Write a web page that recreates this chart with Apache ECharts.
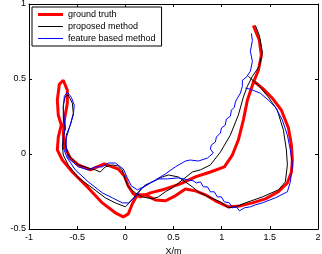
<!DOCTYPE html>
<html>
<head>
<meta charset="utf-8">
<script src="https://cdn.jsdelivr.net/npm/echarts@6/dist/echarts.min.js"></script>
<style>
  html, body { margin: 0; padding: 0; background: #fff; }
  #main { width: 322px; height: 254px; }
</style>
</head>
<body>
<div id="main"></div>
<script>
// trajectories, [x, y] in metres
var groundTruth = [
  [1.329, 0.857], [1.391, 0.758], [1.412, 0.658], [1.381, 0.558], [1.319, 0.459],
  [1.267, 0.359], [1.225, 0.226], [1.173, 0.093], [1.111, -0.007], [1.028, -0.086],
  [0.883, -0.120], [0.727, -0.153], [0.571, -0.199], [0.415, -0.233], [0.260, -0.259],
  [0.156, -0.286], [0.083, -0.266], [0.031, -0.213], [-0.010, -0.146], [-0.073, -0.100],
  [-0.135, -0.086], [-0.218, -0.066], [-0.291, -0.086], [-0.363, -0.106], [-0.488, -0.073],
  [-0.571, -0.027], [-0.623, 0.040], [-0.644, 0.126], [-0.633, 0.226], [-0.602, 0.339],
  [-0.602, 0.425], [-0.644, 0.492], [-0.685, 0.465], [-0.706, 0.359], [-0.696, 0.259],
  [-0.665, 0.193], [-0.696, 0.113], [-0.706, 0.027], [-0.654, -0.040], [-0.550, -0.120],
  [-0.384, -0.226], [-0.239, -0.326], [-0.104, -0.392], [-0.021, -0.419], [0.031, -0.399],
  [0.073, -0.332], [0.125, -0.272], [0.208, -0.272], [0.312, -0.306], [0.415, -0.312],
  [0.519, -0.279], [0.623, -0.233], [0.727, -0.246], [0.831, -0.272], [0.935, -0.312],
  [1.070, -0.352], [1.194, -0.346], [1.319, -0.326], [1.454, -0.299], [1.589, -0.252],
  [1.682, -0.193], [1.724, -0.120], [1.734, -0.040], [1.724, 0.060], [1.693, 0.173],
  [1.620, 0.292], [1.526, 0.372], [1.423, 0.439], [1.319, 0.492]
];

var proposed = [
  [1.350, 0.857], [1.391, 0.791], [1.423, 0.678], [1.391, 0.585], [1.319, 0.518],
  [1.267, 0.452], [1.225, 0.379], [1.173, 0.259], [1.090, 0.126], [0.987, 0.013],
  [0.883, -0.073], [0.779, -0.106], [0.696, -0.120], [0.592, -0.173], [0.488, -0.226],
  [0.415, -0.252], [0.343, -0.286], [0.280, -0.299], [0.177, -0.286], [0.104, -0.259],
  [0.031, -0.219], [0.000, -0.173], [-0.031, -0.106], [-0.073, -0.080], [-0.135, -0.073],
  [-0.208, -0.086], [-0.260, -0.120], [-0.312, -0.106], [-0.384, -0.093], [-0.488, -0.073],
  [-0.592, -0.007], [-0.623, 0.060], [-0.613, 0.126], [-0.571, 0.193], [-0.540, 0.272],
  [-0.550, 0.339], [-0.592, 0.392], [-0.623, 0.385], [-0.644, 0.326], [-0.644, 0.239],
  [-0.623, 0.173], [-0.644, 0.113], [-0.654, 0.053], [-0.644, -0.007], [-0.592, -0.073],
  [-0.488, -0.159], [-0.343, -0.226], [-0.208, -0.292], [-0.104, -0.326], [0.000, -0.352],
  [0.052, -0.319], [0.135, -0.252], [0.208, -0.206], [0.280, -0.186], [0.384, -0.153],
  [0.447, -0.140], [0.550, -0.153], [0.696, -0.219], [0.758, -0.252], [0.862, -0.286],
  [0.987, -0.319], [1.070, -0.359], [1.142, -0.352], [1.246, -0.326], [1.423, -0.286],
  [1.589, -0.239], [1.661, -0.186], [1.682, -0.073], [1.672, 0.027], [1.641, 0.159],
  [1.578, 0.292], [1.485, 0.379], [1.381, 0.459], [1.277, 0.518]
];

var featureBased = [
  [1.308, 0.804], [1.319, 0.758], [1.298, 0.684], [1.319, 0.618], [1.298, 0.552],
  [1.256, 0.512], [1.215, 0.492], [1.215, 0.452], [1.194, 0.405], [1.163, 0.372],
  [1.142, 0.346], [1.132, 0.312], [1.101, 0.292], [1.090, 0.252], [1.049, 0.233],
  [1.038, 0.193], [0.997, 0.173], [0.987, 0.140], [0.945, 0.113], [0.935, 0.080],
  [0.893, 0.060], [0.883, 0.033], [0.914, 0.007], [0.852, -0.027], [0.758, -0.047],
  [0.675, -0.040], [0.623, -0.047], [0.519, -0.086], [0.415, -0.133], [0.312, -0.173],
  [0.208, -0.213], [0.125, -0.239], [0.062, -0.213], [0.021, -0.159], [-0.021, -0.100],
  [-0.104, -0.060], [-0.177, -0.060], [-0.239, -0.086], [-0.312, -0.086], [-0.384, -0.106],
  [-0.488, -0.086], [-0.592, -0.027], [-0.613, 0.040], [-0.613, 0.106], [-0.582, 0.173],
  [-0.540, 0.259], [-0.530, 0.326], [-0.561, 0.379], [-0.602, 0.412], [-0.633, 0.385],
  [-0.644, 0.306], [-0.633, 0.226], [-0.623, 0.173], [-0.644, 0.113], [-0.644, 0.040],
  [-0.602, -0.027], [-0.519, -0.106], [-0.384, -0.186], [-0.239, -0.259], [-0.135, -0.292],
  [-0.031, -0.326], [0.031, -0.326], [0.104, -0.286], [0.177, -0.226], [0.260, -0.193],
  [0.343, -0.166], [0.436, -0.166], [0.550, -0.159], [0.654, -0.173], [0.706, -0.179],
  [0.737, -0.193], [0.779, -0.186], [0.810, -0.219], [0.852, -0.219], [0.883, -0.252],
  [0.924, -0.252], [0.955, -0.286], [0.997, -0.286], [1.028, -0.319], [1.080, -0.326],
  [1.111, -0.359], [1.153, -0.352], [1.184, -0.379], [1.236, -0.359], [1.298, -0.352],
  [1.350, -0.339], [1.423, -0.326], [1.558, -0.292], [1.682, -0.252], [1.713, -0.186],
  [1.734, -0.073], [1.713, 0.027], [1.682, 0.126], [1.630, 0.226], [1.558, 0.312],
  [1.485, 0.359], [1.402, 0.405], [1.298, 0.432], [1.246, 0.439]
];

var names = ['ground truth', 'proposed method', 'feature based method'];
var xTicks = [-1, 2, 0.5];   // min, max, step
var yTicks = [-0.5, 1, 0.5];

var chart = echarts.init(document.getElementById('main'));
var font = 'Liberation Sans, Arial, sans-serif';

var tickStyle = { show: true, inside: true, length: 3, lineStyle: { color: '#000', width: 1 } };
var axLine = { onZero: false, lineStyle: { color: '#000', width: 1 } };

var option = {
  animation: false,
  grid: { left: 29, right: 4, top: 4, bottom: 25, containLabel: false, outerBoundsMode: 'none' },
  legend: {
    data: [
      { name: names[0], icon: 'path://M0,0H25V3H0Z' },
      { name: names[1], icon: 'path://M0,0H25V1H0Z' },
      { name: names[2], icon: 'path://M0,0H25V1H0Z' }
    ],
    orient: 'vertical',
    left: 32,
    top: 7,
    padding: [3, 6, 3, 6],
    itemGap: 3,
    itemWidth: 25,
    itemHeight: 9,
    borderColor: '#000',
    borderWidth: 1,
    backgroundColor: '#fff',
    textStyle: { fontFamily: font, fontSize: 9, color: '#000' }
  },
  xAxis: [{
    type: 'value', min: xTicks[0], max: xTicks[1], interval: xTicks[2],
    name: 'X/m', nameLocation: 'middle', nameGap: 16,
    nameTextStyle: { fontFamily: font, fontSize: 9, color: '#000' },
    axisLine: axLine, axisTick: tickStyle,
    axisLabel: { fontFamily: font, fontSize: 9, color: '#000', margin: 4 },
    splitLine: { show: false }
  }, {
    type: 'value', position: 'top', min: xTicks[0], max: xTicks[1], interval: xTicks[2],
    axisLine: axLine, axisTick: tickStyle, axisLabel: { show: false }, splitLine: { show: false }
  }],
  yAxis: [{
    type: 'value', min: yTicks[0], max: yTicks[1], interval: yTicks[2],
    name: 'Y/m', nameLocation: 'middle', nameGap: 22,
    nameTextStyle: { fontFamily: font, fontSize: 9, color: '#000' },
    axisLine: axLine, axisTick: tickStyle,
    axisLabel: { fontFamily: font, fontSize: 9, color: '#000', margin: 3 },
    splitLine: { show: false }
  }, {
    type: 'value', position: 'right', min: yTicks[0], max: yTicks[1], interval: yTicks[2],
    axisLine: axLine, axisTick: tickStyle, axisLabel: { show: false }, splitLine: { show: false }
  }],
  series: [{
    name: names[0], type: 'line', data: groundTruth, symbol: 'none',
    lineStyle: { color: '#ff0000', width: 3 }, itemStyle: { color: '#ff0000' }
  }, {
    name: names[1], type: 'line', data: proposed, symbol: 'none',
    lineStyle: { color: '#000000', width: 1 }, itemStyle: { color: '#000000' }
  }, {
    name: names[2], type: 'line', data: featureBased, symbol: 'none',
    lineStyle: { color: '#0000ff', width: 1 }, itemStyle: { color: '#0000ff' }
  }]
};

chart.setOption(option);
</script>
</body>
</html>
